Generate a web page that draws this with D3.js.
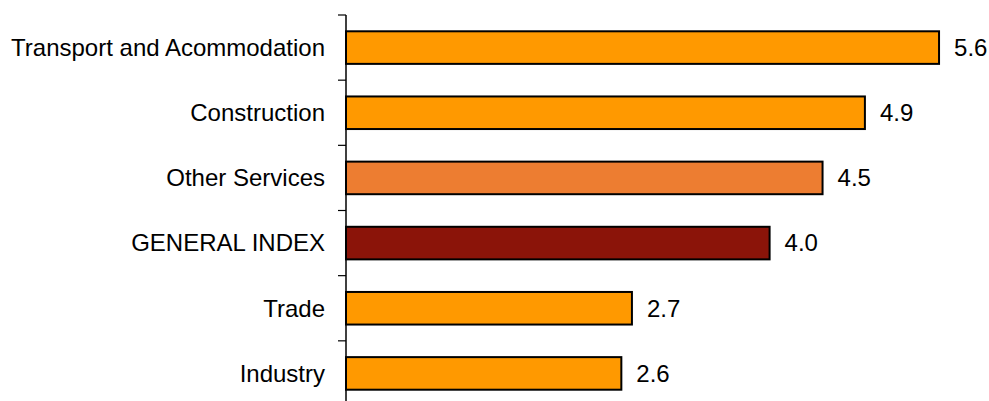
<!DOCTYPE html>
<html><head><meta charset="utf-8">
<script src="https://cdn.jsdelivr.net/npm/d3@7"></script>
<style>body{margin:0;background:#fff}svg{display:block}</style>
</head><body>
<script>
const categories = ["Transport and Acommodation","Construction","Other Services","GENERAL INDEX","Trade","Industry"];
const values = [5.6, 4.9, 4.5, 4.0, 2.7, 2.6];
const colors = ["#FF9900","#FF9900","#ED7D31","#8B1409","#FF9900","#FF9900"];

const W = 989, H = 401;
const svg = d3.select("body").append("svg").attr("width", W).attr("height", H);
const x0 = 346;
const x = d3.scaleLinear().domain([0, 6]).range([x0, x0 + 6*105.9]);
const y = d3.scaleBand().domain(categories).range([15, 406]).paddingInner(0.5).paddingOuter(0.25);

const step = y.step();
svg.append("line").attr("x1", x0).attr("x2", x0).attr("y1", 15).attr("y2", H)
  .attr("stroke", "#000").attr("stroke-width", 1.5);
d3.range(categories.length).forEach(i => {
  const ty = 15 + i*step;
  svg.append("line").attr("x1", x0-8).attr("x2", x0).attr("y1", ty).attr("y2", ty)
    .attr("stroke","#000").attr("stroke-width",1.2);
});

svg.selectAll("rect.bar").data(categories).enter().append("rect")
  .attr("class","bar")
  .attr("x", x0)
  .attr("y", d => y(d))
  .attr("width", (d,i) => x(values[i]) - x0)
  .attr("height", y.bandwidth())
  .attr("fill", (d,i) => colors[i])
  .attr("stroke", "#000").attr("stroke-width", 2);

svg.selectAll("text.cat").data(categories).enter().append("text")
  .attr("x", 325).attr("y", d => y(d) + y.bandwidth()/2)
  .attr("dy", "0.35em").attr("text-anchor","end")
  .attr("font-family","Liberation Sans, Arial, sans-serif").attr("font-size", 24)
  .attr("fill","#000").text(d => d);

svg.selectAll("text.val").data(categories).enter().append("text")
  .attr("x", (d,i) => x(values[i]) + 15).attr("y", d => y(d) + y.bandwidth()/2)
  .attr("dy", "0.35em")
  .attr("font-family","Liberation Sans, Arial, sans-serif").attr("font-size", 24)
  .attr("fill","#000").text((d,i) => values[i].toFixed(1));
</script>
</body></html>
